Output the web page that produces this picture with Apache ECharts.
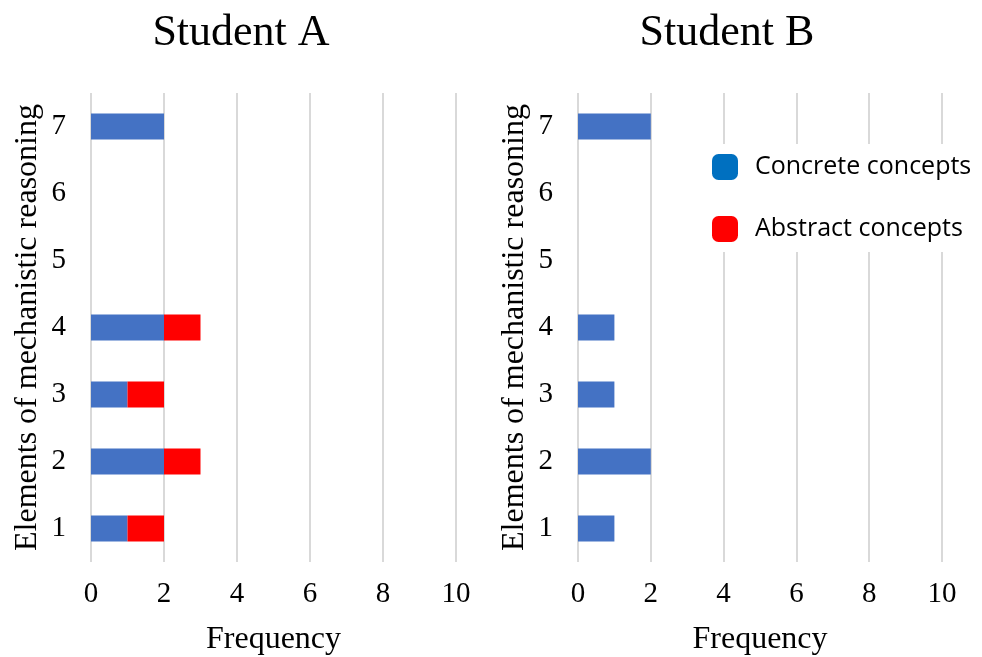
<!DOCTYPE html>
<html>
<head>
<meta charset="utf-8">
<script src="https://cdn.jsdelivr.net/npm/echarts@6/dist/echarts.min.js"></script>
<style>
  html, body { margin: 0; padding: 0; background: #fff; }
  #chart { width: 982px; height: 657px; }
</style>
</head>
<body>
<div id="chart"></div>
<script>
  // elements 1..7, bottom to top
  const categories = ['1', '2', '3', '4', '5', '6', '7'];
  const concreteA = [1, 2, 1, 2, 0, 0, 2];
  const abstractA = [1, 1, 1, 1, 0, 0, 0];
  const concreteB = [1, 2, 1, 1, 0, 0, 2];
  const abstractB = [0, 0, 0, 0, 0, 0, 0];
  const titles = ['Student A', 'Student B'];

  const serif = 'Liberation Serif';
  const chart = echarts.init(document.getElementById('chart'));

  function xAxisFor(i) {
    return {
      type: 'value', gridIndex: i, min: 0, max: 10, interval: 2,
      name: 'Frequency', nameLocation: 'middle', nameGap: 62,
      nameTextStyle: { fontFamily: serif, fontSize: 32, color: '#000' },
      axisLine: { show: false }, axisTick: { show: false },
      axisLabel: { fontFamily: serif, fontSize: 29, color: '#000', margin: 18 },
      splitLine: { lineStyle: { color: '#d9d9d9', width: 2 } }
    };
  }
  function yAxisFor(i) {
    return {
      type: 'category', gridIndex: i, data: categories,
      name: 'Elements of mechanistic reasoning', nameLocation: 'middle',
      nameRotate: 90, nameGap: 47,
      nameTextStyle: { fontFamily: serif, fontSize: 32, color: '#000' },
      axisLine: { show: false }, axisTick: { show: false },
      axisLabel: { fontFamily: serif, fontSize: 29, color: '#000', margin: 25 }
    };
  }
  function bar(name, data, i, color) {
    return {
      name: name, type: 'bar', stack: 's' + i, data: data,
      xAxisIndex: i, yAxisIndex: i, barWidth: '39%',
      itemStyle: { color: color }, silent: true
    };
  }

  chart.setOption({
    animation: false,
    title: titles.map((t, i) => ({
      text: t, left: i === 0 ? 236 : 722, top: 6, textAlign: 'center',
      textStyle: { fontFamily: serif, fontSize: 44, fontWeight: 'normal', color: '#000' }
    })),
    legend: {
      orient: 'vertical', left: 702, top: 144, itemGap: 36,
      padding: [10, 10, 10, 10],
      backgroundColor: '#fff',
      itemWidth: 26, itemHeight: 26,
      textStyle: { fontFamily: 'Open Sans', fontSize: 25, color: '#000', padding: [0, 0, 0, 12] },
      data: [
        { name: 'Concrete concepts', icon: 'roundRect', itemStyle: { color: '#0070C0' } },
        { name: 'Abstract concepts', icon: 'roundRect', itemStyle: { color: '#FF0000' } }
      ]
    },
    grid: [
      { left: 91, width: 365, top: 93, height: 469, outerBoundsMode: 'none' },
      { left: 578, width: 364, top: 93, height: 469, outerBoundsMode: 'none' }
    ],
    xAxis: [xAxisFor(0), xAxisFor(1)],
    yAxis: [yAxisFor(0), yAxisFor(1)],
    series: [
      bar('Concrete concepts', concreteA, 0, '#4472C4'),
      bar('Abstract concepts', abstractA, 0, '#FF0000'),
      bar('Concrete concepts', concreteB, 1, '#4472C4'),
      bar('Abstract concepts', abstractB, 1, '#FF0000')
    ]
  });
</script>
</body>
</html>
